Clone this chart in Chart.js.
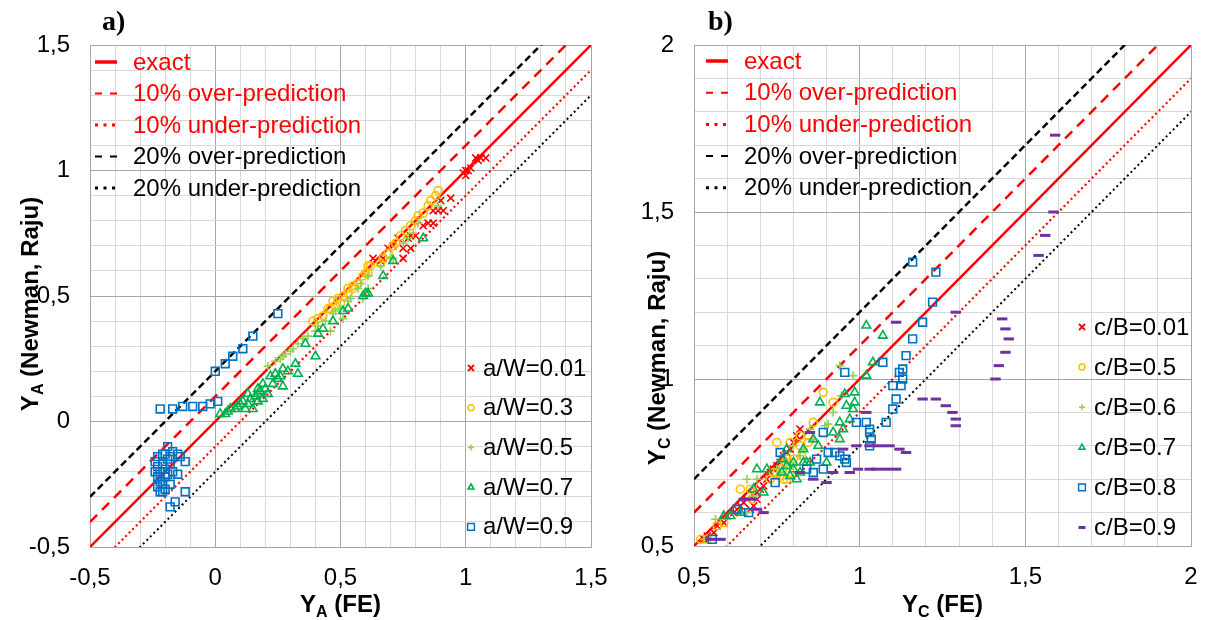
<!DOCTYPE html>
<html>
<head>
<meta charset="utf-8">
<script src="https://cdn.jsdelivr.net/npm/chart.js@4.4.0/dist/chart.umd.min.js"></script>
<style>
  html, body { margin: 0; padding: 0; background: #fff; }
  #wrap { position: relative; width: 1209px; height: 620px; overflow: hidden; }
  .panel { position: absolute; top: 0; height: 620px; }
  #pa { left: 0; width: 625px; }
  #pb { left: 605px; width: 604px; }
</style>
</head>
<body>
<div id="wrap">
  <div class="panel" id="pa"><canvas id="ca" width="625" height="620"></canvas></div>
  <div class="panel" id="pb"><canvas id="cb" width="604" height="620"></canvas></div>
</div>
<script>
// ---------- reference lines (y = x + offset) ----------
const refLabels  = ['exact', '10% over-prediction', '10% under-prediction', '20% over-prediction', '20% under-prediction'];
const refOffsets = [0, 0.1, -0.1, 0.2, -0.2];

// ---------- panel a: Y_A, FE vs Newman-Raju ----------
const aRange = [-0.5, 1.5];
const aTickLabels = ['-0,5', '0', '0,5', '1', '1,5'];
const aLabels = ['a/W=0.01', 'a/W=0.3', 'a/W=0.5', 'a/W=0.7', 'a/W=0.9'];

const aW001 = [[1.04,1.05],[1.06,1.05],[1.08,1.05],[1.05,1.04],[1.00,1.00],[1.01,1.00],[0.99,0.99],[1.02,1.01],[1.00,0.98],
  [0.94,0.89],[0.90,0.88],[0.87,0.84],[0.89,0.84],[0.91,0.84],[0.85,0.79],[0.87,0.79],[0.83,0.78],
  [0.80,0.74],[0.78,0.74],[0.77,0.73],[0.73,0.73],[0.78,0.69],[0.75,0.69],[0.71,0.70],
  [0.75,0.65],[0.67,0.65],[0.63,0.65],[0.66,0.64],[0.69,0.69]];
const aW03 = [[0.89,0.92],[0.88,0.90],[0.86,0.88],[0.85,0.86],[0.83,0.83],[0.81,0.82],[0.80,0.80],[0.78,0.78],[0.76,0.76],
  [0.74,0.74],[0.72,0.71],[0.71,0.70],[0.69,0.67],[0.67,0.65],[0.66,0.63],[0.62,0.62],[0.60,0.59],[0.59,0.58],
  [0.57,0.55],[0.55,0.54],[0.53,0.53],[0.51,0.50],[0.49,0.49],[0.47,0.48],[0.46,0.45],[0.45,0.45],[0.43,0.42],
  [0.41,0.41],[0.39,0.40],[0.53,0.51],[0.55,0.53],[0.57,0.55],[0.61,0.59],[0.61,0.62],[0.48,0.46],[0.50,0.47]];
const aW05 = [[0.21,0.22],[0.24,0.24],[0.26,0.25],[0.27,0.26],[0.28,0.27],[0.30,0.28],[0.31,0.29],[0.33,0.31],[0.35,0.33],
  [0.37,0.34],[0.40,0.36],[0.41,0.38],[0.44,0.40],[0.46,0.36],[0.47,0.43],[0.48,0.44],[0.50,0.45],[0.51,0.41],
  [0.53,0.48],[0.54,0.49],[0.57,0.53],[0.58,0.55],[0.61,0.58],[0.59,0.49],[0.61,0.53],[0.66,0.62],[0.70,0.65],
  [0.71,0.65],[0.75,0.71],[0.77,0.73],[0.79,0.75],[0.81,0.79],[0.89,0.86]];
const aW07 = [[0.02,0.03],[0.04,0.03],[0.05,0.04],[0.06,0.05],[0.08,0.05],[0.09,0.06],[0.10,0.07],[0.11,0.08],[0.12,0.05],
  [0.13,0.11],[0.13,0.07],[0.14,0.09],[0.15,0.05],[0.16,0.10],[0.17,0.13],[0.17,0.11],[0.17,0.08],[0.18,0.12],
  [0.19,0.09],[0.19,0.15],[0.20,0.13],[0.21,0.11],[0.22,0.18],[0.23,0.15],[0.24,0.19],[0.25,0.17],[0.26,0.18],
  [0.27,0.21],[0.27,0.14],[0.29,0.20],[0.32,0.23],[0.33,0.19],[0.36,0.31],[0.40,0.26],[0.41,0.35],[0.43,0.37],
  [0.47,0.40],[0.51,0.44],[0.53,0.45],[0.59,0.50],[0.60,0.51],[0.61,0.51],[0.67,0.58],[0.71,0.64],[0.83,0.73]];
const aW09 = [[0.25,0.43],[0.15,0.34],[0.11,0.29],[0.07,0.26],[0.04,0.23],[0.00,0.20],[0.01,0.08],[-0.02,0.07],[-0.05,0.06],
  [-0.09,0.06],[-0.13,0.06],[-0.17,0.05],[-0.22,0.05],
  [-0.19,-0.10],[-0.17,-0.12],[-0.15,-0.13],[-0.14,-0.14],[-0.21,-0.13],[-0.12,-0.16],[-0.15,-0.21],[-0.18,-0.25],
  [-0.12,-0.28],[-0.16,-0.32],[-0.18,-0.34],[-0.21,-0.28],[-0.24,-0.16],[-0.23,-0.18],[-0.22,-0.20],[-0.23,-0.22],
  [-0.22,-0.24],[-0.21,-0.17],[-0.20,-0.19],[-0.20,-0.22],[-0.19,-0.15],[-0.19,-0.21],[-0.18,-0.17],[-0.21,-0.25],
  [-0.23,-0.26],[-0.22,-0.28],[-0.20,-0.27],[-0.17,-0.20],[-0.18,-0.14],[-0.20,-0.13],[-0.24,-0.20],[-0.23,-0.14]];

// ---------- panel b: Y_C, FE vs Newman-Raju ----------
const bRange = [0.5, 2];
const bTickLabels = ['0,5', '1', '1,5', '2'];
const cLabels = ['c/B=0.01', 'c/B=0.5', 'c/B=0.6', 'c/B=0.7', 'c/B=0.8', 'c/B=0.9'];

const cB001 = [[0.53,0.52],[0.54,0.53],[0.56,0.54],[0.57,0.56],[0.59,0.57],[0.60,0.59],[0.62,0.60],[0.63,0.61],[0.64,0.62],
  [0.65,0.63],[0.66,0.64],[0.67,0.61],[0.68,0.62],[0.68,0.65],[0.69,0.64],[0.69,0.66],[0.70,0.67],[0.71,0.68],
  [0.72,0.70],[0.73,0.72],[0.74,0.73],[0.75,0.74],[0.76,0.75],[0.77,0.77],[0.78,0.78],[0.79,0.79],[0.80,0.81],
  [0.81,0.83],[0.82,0.85]];
const cB05 = [[0.52,0.52],[0.54,0.52],[0.57,0.56],[0.59,0.57],[0.64,0.67],[0.67,0.67],[0.675,0.64],[0.73,0.70],[0.74,0.72],
  [0.75,0.72],[0.765,0.73],[0.77,0.70],[0.775,0.75],[0.78,0.76],[0.80,0.76],[0.825,0.77],[0.75,0.81],[0.79,0.81],
  [0.82,0.80],[0.82,0.83],[0.845,0.83],[0.845,0.81],[0.86,0.87],[0.89,0.96],[0.92,0.93],[0.76,0.71],[0.78,0.70],[0.79,0.72]];
const cB06 = [[0.53,0.52],[0.565,0.58],[0.66,0.60],[0.66,0.70],[0.68,0.65],[0.69,0.70],[0.75,0.73],[0.76,0.72],[0.78,0.75],
  [0.80,0.74],[0.80,0.80],[0.82,0.77],[0.83,0.79],[0.85,0.85],[0.86,0.82],[0.895,0.86],[0.905,0.865],[0.92,0.90],
  [0.945,0.95],[0.94,1.04],[0.98,1.01]];
const cB07 = [[0.59,0.59],[0.61,0.59],[0.64,0.60],[0.68,0.67],[0.69,0.73],[0.71,0.66],[0.72,0.73],[0.765,0.76],[0.765,0.72],
  [0.78,0.74],[0.78,0.79],[0.79,0.71],[0.80,0.73],[0.80,0.75],[0.81,0.70],[0.82,0.72],[0.83,0.75],[0.83,0.79],
  [0.84,0.75],[0.85,0.75],[0.86,0.82],[0.875,0.80],[0.88,0.93],[0.90,0.75],[0.92,0.84],[0.94,0.82],[0.95,0.85],
  [0.94,0.87],[0.955,0.955],[0.96,0.92],[0.97,0.88],[0.98,0.91],[0.985,0.93],[0.985,0.96],[1.02,1.01],[1.04,1.05],
  [1.02,1.16],[1.07,1.13]];
const cB08 = [[0.555,0.52],[0.63,0.61],[0.665,0.60],[0.745,0.69],[0.76,0.78],[0.84,0.73],[0.86,0.72],[0.87,0.76],[0.89,0.73],
  [0.89,0.84],[0.905,0.78],[0.925,0.78],[0.94,0.77],[0.955,0.76],[0.96,0.75],[0.955,1.02],[0.99,0.87],[1.02,0.87],
  [1.03,0.85],[1.03,0.84],[1.035,0.82],[1.03,0.80],[1.07,1.05],[1.08,0.87],[1.10,0.91],[1.11,0.94],[1.10,0.98],
  [1.125,0.98],[1.13,1.00],[1.12,1.02],[1.13,1.03],[1.14,1.07],[1.16,1.12],[1.19,1.17],[1.22,1.23],[1.16,1.35],[1.23,1.32]];
const cB09 = [[0.55,0.52],[0.58,0.52],[0.65,0.64],[0.675,0.64],[0.69,0.61],[0.71,0.60],[0.82,0.72],[0.85,0.84],[0.86,0.70],
  [0.90,0.69],[0.92,0.72],[0.97,0.72],[0.995,0.73],[1.03,0.73],[1.05,0.73],[1.08,0.73],[1.11,0.73],
  [0.95,0.79],[0.99,0.80],[1.03,0.80],[1.06,0.80],[1.09,0.80],[1.12,0.79],[1.14,0.78],[1.02,0.90],[1.11,1.17],
  [1.19,0.94],[1.23,0.94],[1.26,0.92],[1.28,0.90],[1.29,0.88],[1.29,0.86],[1.29,1.20],
  [1.41,1.00],[1.42,1.04],[1.44,1.08],[1.45,1.12],[1.44,1.15],[1.43,1.18],[1.54,1.37],[1.56,1.43],[1.585,1.50],[1.59,1.73]];

// ---------- styles ----------
const FONT = "'Liberation Sans', Arial, sans-serif";
const refStyles = [
  { color: '#FF0000', dash: [],      width: 2.5, legendDash: [],       legendWidth: 3.5 },
  { color: '#FF0000', dash: [10, 7], width: 2.5, legendDash: [7, 8],   legendWidth: 2 },
  { color: '#FF0000', dash: [2, 3],  width: 2.2, legendDash: [3, 5.5], legendWidth: 3 },
  { color: '#000000', dash: [7, 4],  width: 2.5, legendDash: [7, 8],   legendWidth: 2 },
  { color: '#000000', dash: [2, 3],  width: 2,   legendDash: [3, 5.5], legendWidth: 3 }
];
const markerStyles = [
  { ps: 'crossRot', color: '#FF0000', r: 5,   bw: 1.6, lr: 3,   lbw: 1.8 },
  { ps: 'circle',   color: '#FFC000', r: 4,   bw: 1.6, lr: 3,   lbw: 1.5 },
  { ps: 'cross',    color: '#92D050', r: 4.3, bw: 1.6, lr: 3,   lbw: 1.5 },
  { ps: 'triangle', color: '#00B050', r: 5,   bw: 1.6, lr: 3.2, lbw: 1.6 },
  { ps: 'rect',     color: '#0070C0', r: 5.5, bw: 1.6, lr: 3.4, lbw: 1.5 },
  { ps: 'line',     color: '#7030A0', r: 5.2, bw: 3,   lr: 3.5, lbw: 3 }
];

function toPoints(arr) { return arr.map(p => ({ x: p[0], y: p[1] })); }

function refDatasets(range) {
  return refOffsets.map((off, i) => ({
    label: refLabels[i],
    data: [{ x: range[0], y: range[0] + off }, { x: range[1], y: range[1] + off }],
    showLine: true,
    borderColor: refStyles[i].color,
    borderWidth: refStyles[i].width,
    borderDash: refStyles[i].dash,
    pointRadius: 0,
    fill: false,
    order: 100 + i
  }));
}

function seriesDatasets(labels, series, styles) {
  return series.map((arr, i) => ({
    label: labels[i],
    data: toPoints(arr),
    showLine: false,
    pointStyle: styles[i].ps,
    pointRadius: styles[i].r,
    pointBorderWidth: styles[i].bw,
    pointBorderColor: styles[i].color,
    pointBackgroundColor: 'rgba(0,0,0,0)',
    borderColor: styles[i].color,
    backgroundColor: 'rgba(0,0,0,0)',
    order: 50 - i
  }));
}

function isMajor(v, min) {
  const k = Math.round((v - min) / 0.5);
  return Math.abs(v - (min + k * 0.5)) < 1e-6;
}

function axis(range, labels, isX, size) {
  const [min, max] = range;
  return {
    type: 'linear', min, max,
    afterBuildTicks: (s) => {
      const n = Math.round((max - min) / 0.1);
      const t = [];
      for (let i = 0; i <= n; i++) t.push({ value: +(min + i * 0.1).toFixed(3) });
      s.ticks = t;
    },
    afterFit: (s) => {
      if (isX) { s.height = size; s.paddingLeft = 0; s.paddingRight = 0; }
      else { s.width = size; s.paddingTop = 0; s.paddingBottom = 0; }
    },
    grid: {
      color: (c) => isMajor(c.tick.value, min) ? '#a6a6a6' : '#d9d9d9',
      lineWidth: 1,
      drawTicks: false,
      tickLength: 0
    },
    border: { display: true, color: '#a6a6a6', width: 1 },
    ticks: {
      autoSkip: false,
      maxRotation: 0,
      padding: isX ? 17 : 20,
      color: '#000',
      font: { family: FONT, size: 24 },
      callback: (v) => {
        if (!isMajor(v, min)) return '';
        return labels[Math.round((v - min) / 0.5)];
      }
    }
  };
}

function drawMarker(ctx, m, x, y) {
  const r = m.lr;
  ctx.save();
  ctx.strokeStyle = m.color;
  ctx.lineWidth = m.lbw;
  ctx.beginPath();
  switch (m.ps) {
    case 'circle': ctx.arc(x, y, r, 0, Math.PI * 2); break;
    case 'rect': ctx.rect(x - r, y - r, 2 * r, 2 * r); break;
    case 'triangle':
      ctx.moveTo(x, y - r); ctx.lineTo(x + r * 0.9, y + r * 0.6); ctx.lineTo(x - r * 0.9, y + r * 0.6); ctx.closePath(); break;
    case 'crossRot':
      ctx.moveTo(x - r, y - r); ctx.lineTo(x + r, y + r); ctx.moveTo(x + r, y - r); ctx.lineTo(x - r, y + r); break;
    case 'cross':
      ctx.moveTo(x - r, y); ctx.lineTo(x + r, y); ctx.moveTo(x, y - r); ctx.lineTo(x, y + r); break;
    case 'line':
      ctx.moveTo(x - r, y); ctx.lineTo(x + r, y); break;
  }
  ctx.stroke();
  ctx.restore();
}

// Axis title with a subscript letter: "Y" + sub + rest
function drawSubText(ctx, sub, rest, cx, cy, rotate) {
  const big = 'bold 24px ' + FONT, small = 'bold 16px ' + FONT;
  ctx.save();
  ctx.translate(cx, cy);
  if (rotate) ctx.rotate(-Math.PI / 2);
  ctx.fillStyle = '#000';
  ctx.textBaseline = 'alphabetic';
  ctx.textAlign = 'left';
  ctx.font = big; const wY = ctx.measureText('Y').width; const wR = ctx.measureText(rest).width;
  ctx.font = small; const wS = ctx.measureText(sub).width;
  let x = -(wY + wS + wR) / 2;
  const base = 8;
  ctx.font = big; ctx.fillText('Y', x, base); x += wY;
  ctx.font = small; ctx.fillText(sub, x, base + 5); x += wS;
  ctx.font = big; ctx.fillText(rest, x, base);
  ctx.restore();
}

const decor = {
  id: 'decor',
  afterDraw(chart, args, o) {
    const ctx = chart.ctx, ca = chart.chartArea;
    ctx.save();
    // panel letter
    ctx.font = 'bold 28px "Liberation Serif", "Times New Roman", serif';
    ctx.fillStyle = '#000';
    ctx.textAlign = 'left';
    ctx.textBaseline = 'alphabetic';
    ctx.fillText(o.letter, o.letterX, 30);
    // axis titles
    drawSubText(ctx, o.sub, ' (FE)', (ca.left + ca.right) / 2 + o.xTitleDx, o.xTitleY, false);
    drawSubText(ctx, o.sub, ' (Newman, Raju)', o.yTitleX, o.yTitleY, true);

    // reference-line legend (top left)
    ctx.textBaseline = 'middle';
    ctx.font = '24px ' + FONT;
    refLabels.forEach((lab, i) => {
      const y = o.refY0 + i * o.refDy;
      const s = refStyles[i];
      ctx.save();
      ctx.strokeStyle = s.color;
      ctx.lineWidth = s.legendWidth;
      ctx.setLineDash(s.legendDash);
      ctx.beginPath();
      ctx.moveTo(o.refX, y);
      ctx.lineTo(o.refX + 22, y);
      ctx.stroke();
      ctx.restore();
      ctx.fillStyle = s.color;
      ctx.fillText(lab, o.refX + 38, y + 1);
    });

    // marker legend (bottom right)
    o.labels.forEach((lab, i) => {
      const y = o.serY0 + i * o.serDy;
      drawMarker(ctx, markerStyles[i], o.serX, y);
      ctx.fillStyle = '#000';
      ctx.fillText(lab, o.serX + 12, y + 1);
    });
    ctx.restore();
  }
};

function makeChart(id, range, tickLabels, labels, series, opts) {
  const datasets = refDatasets(range).concat(seriesDatasets(labels, series, markerStyles));
  return new Chart(document.getElementById(id), {
    type: 'scatter',
    data: { datasets },
    options: {
      responsive: false,
      animation: false,
      devicePixelRatio: 1,
      layout: { padding: { top: 45, right: opts.padRight, left: 0, bottom: 0 } },
      scales: {
        x: axis(range, tickLabels, true, opts.xAxisH),
        y: axis(range, tickLabels, false, opts.yAxisW)
      },
      plugins: {
        legend: { display: false },
        tooltip: { enabled: false },
        decor: opts.decor
      }
    },
    plugins: [decor]
  });
}

makeChart('ca', aRange, aTickLabels, aLabels, [aW001, aW03, aW05, aW07, aW09], {
  padRight: 34, xAxisH: 73, yAxisW: 90,
  decor: {
    letter: 'a)', letterX: 102, sub: 'A',
    xTitleDx: 0, xTitleY: 604, yTitleX: 30, yTitleY: 304,
    refX: 95, refY0: 62, refDy: 31.5,
    labels: aLabels, serX: 471, serY0: 368, serDy: 39.7
  }
});

makeChart('cb', bRange, bTickLabels, cLabels, [cB001, cB05, cB06, cB07, cB08, cB09], {
  padRight: 18, xAxisH: 74, yAxisW: 89,
  decor: {
    letter: 'b)', letterX: 103, sub: 'C',
    xTitleDx: 0, xTitleY: 604, yTitleX: 52, yTitleY: 358,
    refX: 101, refY0: 61, refDy: 31.7,
    labels: cLabels, serX: 477, serY0: 327, serDy: 40.1
  }
});
</script>
</body>
</html>
